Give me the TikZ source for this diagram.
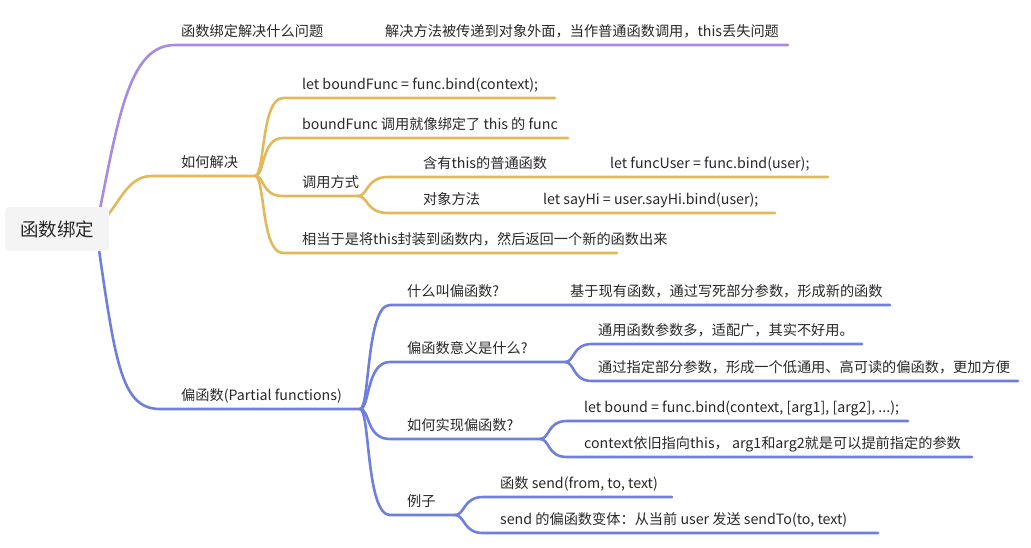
\documentclass[tikz,border=0pt]{standalone}
\usepackage{fontspec}
\setmainfont{Noto Sans CJK SC}
\definecolor{cpur}{RGB}{168,138,228}
\definecolor{cgol}{RGB}{226,185,90}
\definecolor{cblu}{RGB}{110,127,221}
\definecolor{txt}{RGB}{40,40,40}
\definecolor{rootbg}{RGB}{244,244,244}
\begin{document}
\begin{tikzpicture}[x=1pt,y=-1pt,
  lbl/.style={anchor=base west,inner sep=0pt,text=txt,font=\fontsize{14.2}{16}\selectfont},
  rootbox/.style={fill=rootbg,rounded corners=4pt,minimum width=104pt,minimum height=44pt,inner sep=0pt,text=txt,font=\fontsize{18.5}{20}\selectfont},
  br/.style={line width=2.6pt,line cap=round},
  pur/.style={br,draw=cpur}, gol/.style={br,draw=cgol}, blu/.style={br,draw=cblu}]
\useasboundingbox (0,0) rectangle (1031,547);
\coordinate (rO) at (96,229);
% ---------- purple branch
\coordinate (p1s) at (175,45); \coordinate (p1e) at (788,45);
\draw[pur] (rO) .. controls (118,120) and (128,45) .. (p1s) -- (p1e);
\node[lbl] (p1) at (181,36) {函数绑定解决什么问题};
\node[lbl] (p1a) at (385,36) {解决方法被传递到对象外面，当作普通函数调用，this丢失问题};
% ---------- gold branch
\coordinate (g0s) at (152,176); \coordinate (gF) at (255,176);
\draw[gol] (rO) .. controls (120,205) and (126,176) .. (g0s) -- (gF);
\node[lbl] (g0) at (181,167) {如何解决};
\coordinate (g1s) at (283,98);  \coordinate (g1e) at (555,98);
\coordinate (g2s) at (283,138); \coordinate (g2e) at (568,138);
\coordinate (g3s) at (283,196); \coordinate (gF2) at (358,196);
\coordinate (g4s) at (283,253); \coordinate (g4e) at (617,253);
\draw[gol] (gF) .. controls +(10,0) and +(-22,0) .. (g1s) -- (g1e);
\draw[gol] (gF) .. controls +(10,0) and +(-22,0) .. (g2s) -- (g2e);
\draw[gol] (gF) .. controls +(10,0) and +(-22,0) .. (g3s) -- (gF2);
\draw[gol] (gF) .. controls +(10,0) and +(-22,0) .. (g4s) -- (g4e);
\node[lbl] (g1) at (302,89) {let boundFunc = func.bind(context);};
\node[lbl] (g2) at (302,129) {boundFunc 调用就像绑定了 this 的 func};
\node[lbl] (g3) at (302,187) {调用方式};
\node[lbl] (g4) at (302,244) {相当于是将this封装到函数内，然后返回一个新的函数出来};
\coordinate (g31s) at (388,177); \coordinate (g31e) at (828,177);
\coordinate (g32s) at (388,213); \coordinate (g32e) at (775,213);
\draw[gol] (gF2) .. controls +(10,0) and +(-22,0) .. (g31s) -- (g31e);
\draw[gol] (gF2) .. controls +(10,0) and +(-22,0) .. (g32s) -- (g32e);
\node[lbl] (g31) at (423,168) {含有this的普通函数};
\node[lbl] (g31a) at (610,168) {let funcUser = func.bind(user);};
\node[lbl] (g32) at (423,204) {对象方法};
\node[lbl] (g32a) at (543,204) {let sayHi = user.sayHi.bind(user);};
% ---------- blue branch
\coordinate (b0s) at (160,409); \coordinate (bF) at (360,409);
\draw[blu] (rO) .. controls (115,360) and (120,409) .. (b0s) -- (bF);
\node[lbl] (b0) at (181,400) {偏函数(Partial functions)};
\coordinate (b1s) at (390,305); \coordinate (b1e) at (890,305);
\coordinate (b2s) at (390,362); \coordinate (bF2) at (565,362);
\coordinate (b3s) at (390,439); \coordinate (bF3) at (540,439);
\coordinate (b4s) at (390,515); \coordinate (bF4) at (455,515);
\draw[blu] (bF) .. controls +(10,0) and +(-24,0) .. (b1s) -- (b1e);
\draw[blu] (bF) .. controls +(10,0) and +(-24,0) .. (b2s) -- (bF2);
\draw[blu] (bF) .. controls +(10,0) and +(-24,0) .. (b3s) -- (bF3);
\draw[blu] (bF) .. controls +(10,0) and +(-24,0) .. (b4s) -- (bF4);
\node[lbl] (b1) at (407,296) {什么叫偏函数?};
\node[lbl] (b1a) at (570,296) {基于现有函数，通过写死部分参数，形成新的函数};
\node[lbl] (b2) at (407,353) {偏函数意义是什么?};
\node[lbl] (b3) at (407,430) {如何实现偏函数?};
\node[lbl] (b4) at (407,506) {例子};
\coordinate (b21s) at (592,344); \coordinate (b21e) at (862,344);
\coordinate (b22s) at (592,381); \coordinate (b22e) at (1018,381);
\draw[blu] (bF2) .. controls +(10,0) and +(-20,0) .. (b21s) -- (b21e);
\draw[blu] (bF2) .. controls +(10,0) and +(-20,0) .. (b22s) -- (b22e);
\node[lbl] (b21) at (598,335) {通用函数参数多，适配广，其实不好用。};
\node[lbl] (b22) at (598,372) {通过指定部分参数，形成一个低通用、高可读的偏函数，更加方便};
\coordinate (b31s) at (567,421); \coordinate (b31e) at (908,421);
\coordinate (b32s) at (567,457); \coordinate (b32e) at (972,457);
\draw[blu] (bF3) .. controls +(10,0) and +(-20,0) .. (b31s) -- (b31e);
\draw[blu] (bF3) .. controls +(10,0) and +(-20,0) .. (b32s) -- (b32e);
\node[lbl] (b31) at (584,412) {let bound = func.bind(context, [arg1], [arg2], ...);};
\node[lbl] (b32) at (584,448) {context依旧指向this， arg1和arg2就是可以提前指定的参数};
\coordinate (b41s) at (483,497); \coordinate (b41e) at (672,497);
\coordinate (b42s) at (483,533); \coordinate (b42e) at (878,533);
\draw[blu] (bF4) .. controls +(10,0) and +(-20,0) .. (b41s) -- (b41e);
\draw[blu] (bF4) .. controls +(10,0) and +(-20,0) .. (b42s) -- (b42e);
\node[lbl] (b41) at (500,488) {函数 send(from, to, text)};
\node[lbl] (b42) at (500,524) {send 的偏函数变体：从当前 user 发送 sendTo(to, text)};
% ---------- root
\node[rootbox] (root) at (57,229) {函数绑定};
\end{tikzpicture}
\end{document}
